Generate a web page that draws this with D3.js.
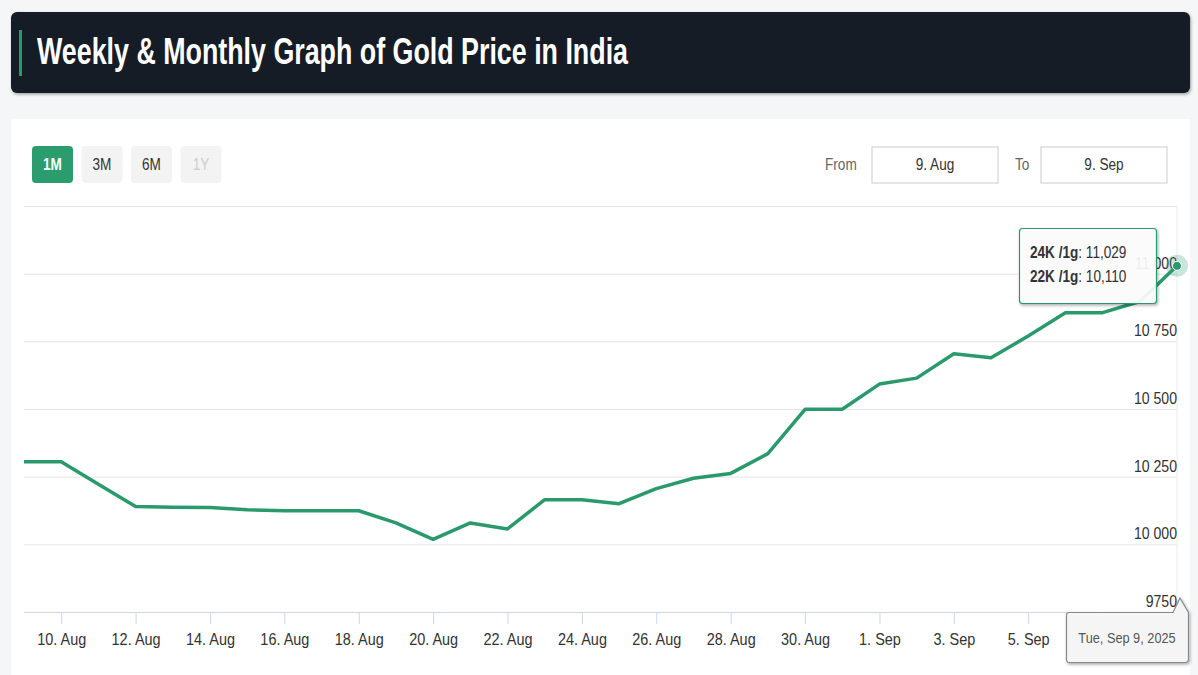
<!DOCTYPE html>
<html>
<head>
<meta charset="utf-8">
<script src="https://d3js.org/d3.v7.min.js"></script>
<style>
  body { margin:0; background:#f5f6f8; font-family:"Liberation Sans", Arial, sans-serif; }
  svg text { font-family:"Liberation Sans", Arial, sans-serif; }
</style>
</head>
<body>
<div id="chart"></div>
<script>
// values: 24K gold, price per gram, one per day
const dates = ["2025-08-09","2025-08-10","2025-08-11","2025-08-12","2025-08-13","2025-08-14",
  "2025-08-15","2025-08-16","2025-08-17","2025-08-18","2025-08-19","2025-08-20","2025-08-21",
  "2025-08-22","2025-08-23","2025-08-24","2025-08-25","2025-08-26","2025-08-27","2025-08-28",
  "2025-08-29","2025-08-30","2025-08-31","2025-09-01","2025-09-02","2025-09-03","2025-09-04",
  "2025-09-05","2025-09-06","2025-09-07","2025-09-08","2025-09-09"];
const price24k = [10305,10305,10222,10140,10137,10136,10128,10124,10124,10124,10079,10018,10079,
  10057,10165,10165,10150,10206,10244,10262,10335,10499,10499,10592,10614,10704,10689,10770,
  10856,10856,10897,11029];
const yTicks = [9750,10000,10250,10500,10750,11000,11250];
const rangeButtons = ["1M","3M","6M","1Y"];
const fromLabel = "9. Aug", toLabel = "9. Sep";
const tipLabels = ["24K /1g", "22K /1g"];
const tipValues = [11029, 10110];
const title = "Weekly & Monthly Graph of Gold Price in India";

const W = 1198, H = 675;
const plot = {left:24, right:1177, top:206, bottom:612};
const green = "#2a9a6c";

const parse = d3.timeParse("%Y-%m-%d");
const data = dates.map((d,i) => ({date: parse(d), v: price24k[i]}));

const svg = d3.select("#chart").append("svg").attr("width", W).attr("height", H);

// squeeze text horizontally, the screenshot is narrow
function squeeze(sel, k) {
  sel.each(function() {
    const w = this.getComputedTextLength();
    d3.select(this).attr("textLength", w * k).attr("lengthAdjust", "spacingAndGlyphs");
  });
}

const defs = svg.append("defs");
const f = defs.append("filter").attr("id","shadow").attr("x","-20%").attr("y","-20%").attr("width","140%").attr("height","150%");
f.append("feDropShadow").attr("dx",1).attr("dy",1.5).attr("stdDeviation",1.5).attr("flood-color","#000").attr("flood-opacity",0.35);

// header bar
svg.append("rect").attr("x",11).attr("y",12).attr("width",1179).attr("height",81).attr("rx",6)
  .attr("fill","#161b26").attr("filter","url(#shadow)");
svg.append("rect").attr("x",19).attr("y",30).attr("width",3).attr("height",46).attr("fill","#20a15f");
svg.append("text").attr("x",37).attr("y",64).attr("fill","#fff").attr("font-size",36).attr("font-weight","bold")
  .text(title).attr("textLength",591).attr("lengthAdjust","spacingAndGlyphs");

// card
svg.append("rect").attr("x",11).attr("y",119).attr("width",1179).attr("height",H-119).attr("fill","#fff");

// range buttons
const btn = svg.append("g").selectAll("g").data(rangeButtons).enter().append("g")
  .attr("transform", (d,i) => `translate(${32 + i*49.5},146)`);
btn.append("rect").attr("width",41).attr("height",37).attr("rx",4)
  .attr("fill", (d,i) => i === 0 ? "#2b9c6e" : "#f3f3f3");
btn.append("text").attr("x",20.5).attr("y",24).attr("text-anchor","middle").attr("font-size",16)
  .attr("font-weight", (d,i) => i === 0 ? "bold" : "normal")
  .attr("fill", (d,i) => i === 0 ? "#fff" : (i === 3 ? "#cccccc" : "#333"))
  .text(d => d).call(squeeze, 0.85);

// from / to inputs
const inputs = [{lab:"From", x:825, bx:872, val:fromLabel}, {lab:"To", x:1015, bx:1041, val:toLabel}];
inputs.forEach(p => {
  svg.append("text").attr("x",p.x).attr("y",170).attr("font-size",16).attr("fill","#666").text(p.lab).call(squeeze,0.85);
  svg.append("rect").attr("x",p.bx).attr("y",147).attr("width",126).attr("height",36)
    .attr("fill","#fff").attr("stroke","#cccccc");
  svg.append("text").attr("x",p.bx+63).attr("y",170).attr("text-anchor","middle").attr("font-size",16)
    .attr("fill","#333").text(p.val).call(squeeze,0.85);
});

// scales
const x = d3.scaleTime().domain(d3.extent(data, d => d.date)).range([plot.left, plot.right]);
const y = d3.scaleLinear().domain([9750, 11250]).range([plot.bottom, plot.top]);

// gridlines
const grid = svg.append("g").attr("transform",`translate(${plot.right},0)`)
  .call(d3.axisLeft(y).tickValues(yTicks.slice(1)).tickSize(plot.right - plot.left).tickFormat(""));
grid.select(".domain").remove();
grid.selectAll("line").attr("stroke","#e6e6e6");
svg.append("line").attr("x1",plot.right).attr("x2",plot.right).attr("y1",plot.top).attr("y2",plot.bottom)
  .attr("stroke","#ececec");

// x axis (the 7. Sep label sits under the date label, so it is left out)
const tickDates = d3.timeDay.range(parse("2025-08-10"), parse("2025-09-09"), 2);
const xAxis = svg.append("g").attr("transform",`translate(0,${plot.bottom})`)
  .call(d3.axisBottom(x).tickValues(tickDates)
    .tickFormat(d => d.getMonth() === 8 && d.getDate() === 7 ? "" : d3.timeFormat("%-d. %b")(d))
    .tickSize(12).tickPadding(9).tickSizeOuter(0));
xAxis.select(".domain").attr("stroke","#ccd6eb").attr("d",`M${plot.left},0.5H${plot.right}`);
xAxis.selectAll(".tick line").attr("stroke","#ccd6eb");
xAxis.selectAll("text").attr("font-size",17).attr("fill","#333")
  .filter(function() { return this.textContent !== ""; }).call(squeeze,0.85);

// y labels (right side, above the gridline)
const fmt = v => v >= 10000 ? d3.format(",")(v).replace(",", " ") : String(v);
svg.append("g").selectAll("text").data(yTicks.slice(0, -1)).enter().append("text")
  .attr("x", plot.right).attr("y", d => y(d) - 5).attr("text-anchor","end")
  .attr("font-size",16).attr("fill","#333").text(fmt).call(squeeze,0.88);

// price line
svg.append("path").datum(data)
  .attr("d", d3.line().x(d => x(d.date)).y(d => y(d.v)))
  .attr("fill","none").attr("stroke",green).attr("stroke-width",3.5).attr("stroke-linejoin","round");

// hover marker at the last point
const last = data[data.length - 1];
svg.append("circle").attr("cx",x(last.date)).attr("cy",y(last.v)).attr("r",11).attr("fill",green).attr("opacity",0.25);
svg.append("circle").attr("cx",x(last.date)).attr("cy",y(last.v)).attr("r",4.5).attr("fill",green).attr("stroke","#fff").attr("stroke-width",1);

// value tooltip
const tip = svg.append("g");
tip.append("rect").attr("x",1019.5).attr("y",228.5).attr("width",137).attr("height",75).attr("rx",3)
  .attr("fill","rgba(255,255,255,0.9)").attr("stroke",green).attr("stroke-width",1.2).attr("filter","url(#shadow)");
tipLabels.forEach((lab, i) => {
  const t = tip.append("text").attr("transform",`translate(1030,${258 + i*24}) scale(0.85,1)`)
    .attr("font-size",16).attr("fill","#333");
  t.append("tspan").attr("font-weight","bold").text(lab);
  t.append("tspan").text(": " + d3.format(",")(tipValues[i]));
});

// date label on the x axis
const dl = svg.append("g");
dl.append("path")
  .attr("d","M1069,612.5 H1173 L1180,598 L1188.5,612.5 V659 Q1188.5,662.5 1185,662.5 H1069 Q1066.5,662.5 1066.5,659 V615 Q1066.5,612.5 1069,612.5 Z")
  .attr("fill","rgba(247,247,247,0.95)").attr("stroke","#888").attr("stroke-width",1.2).attr("filter","url(#shadow)");
dl.append("text").attr("x",1127).attr("y",643).attr("text-anchor","middle").attr("font-size",15).attr("fill","#555")
  .text(d3.timeFormat("%a, %b %-d, %Y")(last.date)).call(squeeze,0.85);
</script>
</body>
</html>
